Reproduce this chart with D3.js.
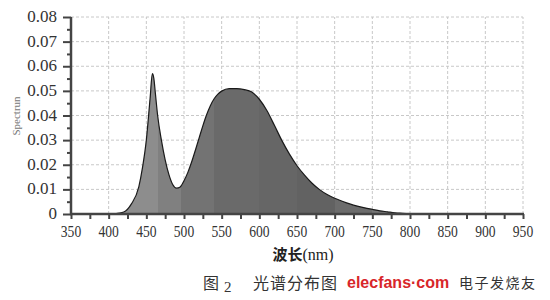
<!DOCTYPE html>
<html><head><meta charset="utf-8">
<script src="https://cdn.jsdelivr.net/npm/d3@7"></script>
<style>body{margin:0;background:#fff}svg{display:block}.serif{font-family:"Liberation Serif","DejaVu Serif",serif}.cjk{font-family:"Noto Sans CJK SC",sans-serif}</style>
</head><body>
<svg id="c" width="550" height="300"></svg>
<script>
const wavelengths = [400,410,420,430,440,445,450,455,458,460,462,465,470,475,480,485,490,495,500,505,510,515,520,525,530,535,540,545,550,560,570,580,590,600,610,620,630,640,650,660,670,680,690,700,710,720,730,740,750,760,770,780,790,800,805];
const spectrum    = [0,0.0002,0.0008,0.004,0.011,0.019,0.030,0.047,0.057,0.055,0.049,0.040,0.030,0.022,0.016,0.012,0.0105,0.011,0.0135,0.0168,0.021,0.0258,0.0308,0.0358,0.0403,0.044,0.0468,0.0487,0.0499,0.0509,0.0509,0.0505,0.0495,0.0466,0.042,0.036,0.0298,0.0243,0.0196,0.0158,0.0125,0.0099,0.0079,0.0064,0.0052,0.0041,0.0032,0.0025,0.0019,0.0013,0.0009,0.0005,0.0003,0.0001,0];
const xTicks = [350,400,450,500,550,600,650,700,750,800,850,900,950];
const yTicks = [0,0.01,0.02,0.03,0.04,0.05,0.06,0.07,0.08];
const yTickLabels = ["0","0.01","0.02","0.03","0.04","0.05","0.06","0.07","0.08"];
const fillBands = [[410,"#8d8d8d"],[466,"#808080"],[496,"#737373"],[540,"#6a6a6a"],[600,"#666666"],[650,"#626262"],[700,"#6c6c6c"],[750,"#787878"]];
const xTitle = "波长(nm)", yTitle = "Spectrun";

const svg = d3.select("#c");
const x = d3.scaleLinear().domain([350,950]).range([71,523]);
const y = d3.scaleLinear().domain([0,0.08]).range([214,17]);

// grid
const g = svg.append("g");
g.selectAll(".vg").data(xTicks.slice(1)).join("line")
  .attr("x1",d=>x(d)).attr("x2",d=>x(d)).attr("y1",y(0)).attr("y2",y(0.08))
  .attr("stroke","#c8c8c8").attr("stroke-dasharray","3,2");
g.selectAll(".hg").data(yTicks.slice(1)).join("line")
  .attr("x1",x(350)).attr("x2",x(950)).attr("y1",d=>y(d)).attr("y2",d=>y(d))
  .attr("stroke","#c8c8c8").attr("stroke-dasharray","3,2");

// gradient bands
const defs = svg.append("defs");
const grad = defs.append("linearGradient").attr("id","bands").attr("gradientUnits","userSpaceOnUse")
  .attr("x1",x(350)).attr("x2",x(950)).attr("y1",0).attr("y2",0);
fillBands.forEach((b,i)=>{
  const off = (x(b[0])-x(350))/(x(950)-x(350));
  if(i>0){ grad.append("stop").attr("offset",off).attr("stop-color",fillBands[i-1][1]); }
  grad.append("stop").attr("offset",off).attr("stop-color",b[1]);
});

const data = wavelengths.map((w,i)=>[w,spectrum[i]]);
const area = d3.area().x(d=>x(d[0])).y0(y(0)).y1(d=>y(d[1])).curve(d3.curveMonotoneX);
const line = d3.line().x(d=>x(d[0])).y(d=>y(d[1])).curve(d3.curveMonotoneX);
svg.append("path").datum(data).attr("d",area).attr("fill","url(#bands)");
svg.append("path").datum(data).attr("d",line).attr("fill","none").attr("stroke","#1a1a1a").attr("stroke-width",1.2);

// axes
const yAxis = d3.axisLeft(y).tickValues(d3.range(0,0.0801,0.005)).tickSize(0).tickFormat("");
const ya = svg.append("g").attr("transform",`translate(${x(350)},0)`).call(yAxis);
ya.select(".domain").remove();
ya.selectAll(".tick line").attr("x2",(d,i)=>i%2===0?-8:-4).attr("stroke","#444").attr("stroke-width",2);
svg.append("line").attr("x1",x(350)).attr("x2",x(350)).attr("y1",y(0.08)).attr("y2",y(0)+1).attr("stroke","#444").attr("stroke-width",2.5);
svg.append("g").selectAll("text").data(yTicks).join("text").attr("class","serif")
  .attr("x",57).attr("y",d=>y(d)+5).attr("text-anchor","end")
  .attr("font-size",17).attr("fill","#333")
  .text((d,i)=>yTickLabels[i]);

const xAxis = d3.axisBottom(x).tickValues(d3.range(350,951,25)).tickSize(0).tickFormat("");
const xa = svg.append("g").attr("transform",`translate(0,${y(0)})`).call(xAxis);
xa.select(".domain").remove();
xa.selectAll(".tick line").attr("y2",5).attr("stroke","#444").attr("stroke-width",2);
svg.append("line").attr("x1",x(350)-1).attr("x2",x(950)+1).attr("y1",y(0)).attr("y2",y(0)).attr("stroke","#444").attr("stroke-width",2.5);
svg.append("g").selectAll("text").data(xTicks).join("text").attr("class","serif")
  .attr("transform",d=>`translate(${x(d)},237) scale(0.8,1)`).attr("text-anchor","middle")
  .attr("font-size",17).attr("fill","#333")
  .text(d=>d);

// titles
const xt = svg.append("text").attr("x",303).attr("y",260).attr("text-anchor","middle").attr("fill","#222");
xt.append("tspan").attr("class","cjk").attr("font-weight","bold").attr("font-size",15).text(xTitle.slice(0,2));
xt.append("tspan").attr("class","serif").attr("font-size",16).text(xTitle.slice(2));
svg.append("text").attr("class","serif").attr("transform","translate(20,116) rotate(-90)").attr("text-anchor","middle")
  .attr("font-size",11).attr("fill","#777").text(yTitle);

// caption
svg.append("text").attr("class","cjk").attr("x",203).attr("y",289).attr("font-size",16).attr("fill","#333").text("图");
svg.append("text").attr("class","serif").attr("x",224).attr("y",292).attr("font-size",15).attr("fill","#333").text("2");
svg.append("text").attr("class","cjk").attr("x",253).attr("y",289).attr("font-size",16).attr("letter-spacing",1).attr("fill","#333").text("光谱分布图");
svg.append("text").attr("x",347).attr("y",288).attr("font-family","'Liberation Sans',Arial,sans-serif").attr("font-weight","bold").attr("font-size",16).attr("fill","#d8262a").text("elecfans·com");
svg.append("text").attr("class","cjk").attr("x",459).attr("y",288).attr("font-size",14).attr("letter-spacing",1.5).attr("fill","#333").text("电子发烧友");
</script>
</body></html>
